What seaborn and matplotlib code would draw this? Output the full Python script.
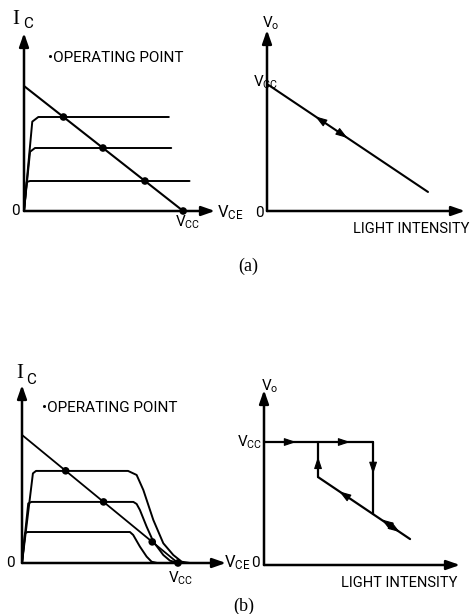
import numpy as np
import pandas as pd
import matplotlib
matplotlib.use("Agg")
import matplotlib.pyplot as plt
import seaborn as sns

sns.set_theme(style="white")
plt.rcParams["font.family"] = ["Roboto", "DejaVu Sans"]
plt.rcParams["mathtext.fontset"] = "custom"
plt.rcParams["mathtext.rm"] = "Roboto"

# ---------------- data (normalised: Vcc = 1, Ic(sat) = Vcc/R = 1) ----------------
# (a) linear phototransistor: output characteristics
a_top_x = [0.0, 0.052, 0.09, 0.91]
a_top_y = [0.0, 0.715, 0.752, 0.752]
a_mid_x = [0.0, 0.038, 0.069, 0.925]
a_mid_y = [0.0, 0.474, 0.504, 0.504]
a_bot_x = [0.0, 0.017, 0.038, 1.04]
a_bot_y = [0.0, 0.232, 0.240, 0.240]
a_load_x = [0.0, 1.0]
a_load_y = [1.0, 0.0]
a_op_x = [0.248, 0.496, 0.76, 1.0]
a_op_y = [0.752, 0.504, 0.240, 0.0]

# (a) output voltage vs light intensity
a_vo_x = [0.0, 1.0]
a_vo_y = [1.0, 0.15]
a_vo_arrows = [(0.30, -1), (0.50, 1)]   # tip position, direction along the line

# (b) switching characteristics
b_top_x = [0.0, 0.07, 0.09, 0.68, 0.735, 0.778, 0.842, 0.906, 0.97, 1.024, 1.077]
b_top_y = [0.0, 0.70, 0.719, 0.719, 0.6875, 0.57, 0.336, 0.154, 0.0625, 0.01, 0.0]
b_mid_x = [0.0, 0.04, 0.06, 0.714, 0.735, 0.756, 0.799, 0.842, 0.906, 0.949, 1.002]
b_mid_y = [0.0, 0.465, 0.477, 0.477, 0.461, 0.414, 0.284, 0.167, 0.0625, 0.018, 0.0]
b_bot_x = [0.0, 0.019, 0.035, 0.692, 0.713, 0.756, 0.799, 0.831, 0.867]
b_bot_y = [0.0, 0.232, 0.242, 0.242, 0.219, 0.128, 0.05, 0.01, 0.0]
b_load_x = [0.0, 1.0]
b_load_y = [1.0, 0.0]
b_op_x = [0.28, 0.523, 0.835, 1.0]
b_op_y = [0.72, 0.477, 0.165, 0.0]

# (b) hysteresis loop of output voltage
b_hi_x = [0.0, 0.747]
b_hi_y = [1.0, 1.0]
b_fall_x = [0.747, 0.747]
b_fall_y = [1.0, 0.413]
b_rise_x = [0.37, 0.37]
b_rise_y = [1.0, 0.715]
b_lin_x = [0.37, 1.0]
b_lin_y = [0.715, 0.211]
# arrowheads: (tip x, tip y, dx, dy)
b_heads = [(0.22, 1.0, 1, 0), (0.59, 1.0, 1, 0), (0.37, 0.88, 0, 1),
           (0.747, 0.74, 0, -1), (0.515, 0.599, -1, 0.8),
           (0.805, 0.371, -1, 0.8), (0.93, 0.267, 1, -0.8)]

W, H = 470, 614
fig = plt.figure(figsize=(W / 100, H / 100), dpi=100)
fig.patch.set_facecolor("white")


def make_axes(ox, oy, xend, ytop, xmax, ymax):
    """Axes whose data origin sits at pixel (ox, oy)."""
    ax = fig.add_axes([ox / W, 1 - oy / H, (xend - ox) / W, (oy - ytop) / H])
    ax.set_xlim(0, xmax)
    ax.set_ylim(0, ymax)
    ax.axis("off")
    for tip in [(xmax, 0), (0, ymax)]:
        ax.annotate("", xy=tip, xytext=(0, 0), annotation_clip=False,
                    arrowprops=dict(arrowstyle="-|>,head_length=0.8,head_width=0.28",
                                    color="black", lw=1.8,
                                    mutation_scale=10, shrinkA=0, shrinkB=0))
    return ax


def curve(ax, xs, ys, lw=1.4):
    sns.lineplot(x=xs, y=ys, ax=ax, color="black", lw=lw, sort=False,
                 estimator=None, clip_on=False)


def head(ax, x, y, dx, dy, s=8):
    # direction given in pixel space, converted to data space of this axes
    p = ax.transData.transform((x, y))
    n = np.hypot(dx, dy)
    tail_px = (p[0] - 3 * dx / n, p[1] - 3 * dy / n)
    tail = ax.transData.inverted().transform(tail_px)
    ax.annotate("", xy=(x, y), xytext=tuple(tail), annotation_clip=False,
                arrowprops=dict(arrowstyle="-|>,head_length=0.9,head_width=0.3",
                                color="black", lw=0.8,
                                mutation_scale=s, shrinkA=0, shrinkB=0))


def txt(x, y, s, size=11, **kw):
    kw.setdefault("ha", "center")
    kw.setdefault("va", "center")
    fig.text(x / W, 1 - y / H, s, fontsize=size, color="black", **kw)


# ---- (a) left: Ic-Vce ----
ax1 = make_axes(24, 211, 215, 33, 1.2, 1.424)
for xs, ys in [(a_top_x, a_top_y), (a_mid_x, a_mid_y), (a_bot_x, a_bot_y)]:
    curve(ax1, xs, ys)
curve(ax1, a_load_x, a_load_y, lw=1.5)
sns.scatterplot(x=a_op_x, y=a_op_y, ax=ax1, color="black", s=30,
                edgecolor="none", clip_on=False, zorder=5)

# ---- (a) right: Vo vs light ----
ax2 = make_axes(267, 211, 465, 30, 1.23, 1.425)
curve(ax2, a_vo_x, a_vo_y, lw=1.5)
for pos, d in a_vo_arrows:
    yv = np.interp(pos, a_vo_x, a_vo_y)
    head(ax2, pos, yv, 160 * d, -108 * d)

# ---- (b) left: Ic-Vce with switching ----
ax3 = make_axes(22, 563, 226, 385, 1.308, 1.39)
for xs, ys in [(b_top_x, b_top_y), (b_mid_x, b_mid_y), (b_bot_x, b_bot_y)]:
    curve(ax3, xs, ys)
curve(ax3, b_load_x, b_load_y, lw=1.3)
sns.scatterplot(x=b_op_x, y=b_op_y, ax=ax3, color="black", s=30,
                edgecolor="none", clip_on=False, zorder=5)

# ---- (b) right: hysteresis ----
ax4 = make_axes(264, 565, 460, 390, 1.342, 1.423)
for xs, ys in [(b_hi_x, b_hi_y), (b_fall_x, b_fall_y),
               (b_rise_x, b_rise_y), (b_lin_x, b_lin_y)]:
    curve(ax4, xs, ys, lw=1.6)
for x, y, dx, dy in b_heads:
    head(ax4, x, y, dx * 146, dy * 123)

# ---------------- labels ----------------
big = 15
# (a)
txt(16, 19, "I", size=big, family=["Liberation Serif"])
txt(28, 24, "C", size=11)
txt(48, 58, "\u2022OPERATING POINT", size=11, ha="left")
txt(15, 211, "0", size=11)
txt(217, 213, r"$\mathregular{V_{CE}}$", size=12, ha="left")
txt(188, 222, r"$\mathregular{V_{CC}}$", size=11)
txt(271, 23, r"$\mathregular{V_{o}}$", size=11)
txt(266, 82, r"$\mathregular{V_{CC}}$", size=11)
txt(259, 213, "0", size=11)
txt(469, 229, "LIGHT INTENSITY", size=10.5, ha="right")
txt(248, 266, "(a)", size=13, family=["Liberation Serif"])
# (b)
txt(20, 374, "I", size=big, family=["Liberation Serif"])
txt(31, 380, "C", size=11)
txt(42, 408, "\u2022OPERATING POINT", size=11, ha="left")
txt(10, 563, "0", size=11)
txt(224, 563, r"$\mathregular{V_{CE}}$", size=12, ha="left")
txt(181, 578, r"$\mathregular{V_{CC}}$", size=11)
txt(270, 386, r"$\mathregular{V_{o}}$", size=11)
txt(250, 442, r"$\mathregular{V_{CC}}$", size=11)
txt(255, 563, "0", size=11)
txt(457, 583, "LIGHT INTENSITY", size=10.5, ha="right")
txt(244, 606, "(b)", size=13, family=["Liberation Serif"])

fig.savefig("out.png", dpi=100, facecolor="white")
